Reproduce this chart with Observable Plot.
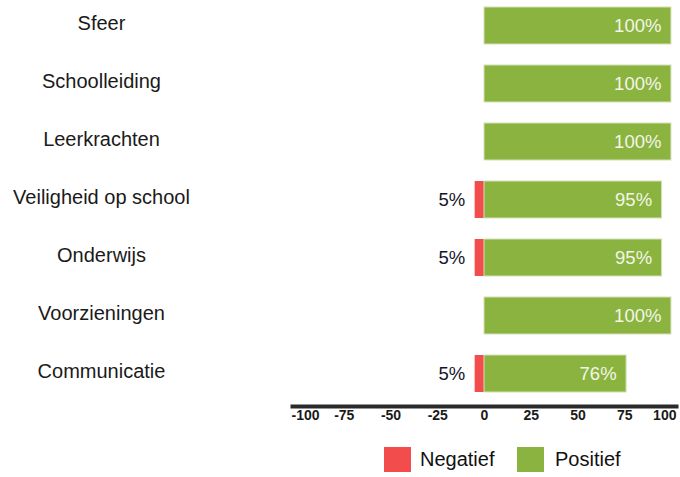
<!DOCTYPE html>
<html><head><meta charset="utf-8">
<script src="https://cdn.jsdelivr.net/npm/d3@7"></script>
<script src="https://cdn.jsdelivr.net/npm/@observablehq/plot@0.6"></script>
<style>
body{margin:0;background:#fff;font-family:"Liberation Sans",Arial,sans-serif}
#legend{position:relative;width:680px;height:37px}
.sw{position:absolute;top:7px;width:27px;height:25px}
.lb{position:absolute;top:8px;font-size:20px;color:#111}
</style>
</head><body><div id="chart"></div>
<div id="legend"></div>
<script>
const categories = ["Sfeer","Schoolleiding","Leerkrachten","Veiligheid op school","Onderwijs","Voorzieningen","Communicatie"];
const negatief = [0,0,0,5,5,0,5];
const positief = [100,100,100,95,95,100,76];
const xTicks = [-100,-75,-50,-25,0,25,50,75,100];
const seriesNames = ["Negatief","Positief"];
const colors = ["#f24c4c","#8ab43f"];

const rows = categories.map((c,i)=>({cat:c, neg:negatief[i], pos:positief[i]}));
const negRows = rows.filter(d=>d.neg>0);
const firstTick = xTicks[0], lastTick = xTicks[xTicks.length-1];
const midTicks = xTicks.slice(1,-1);

const chart = Plot.plot({
  width:680, height:440, marginLeft:292, marginRight:4, marginBottom:34, marginTop:5,
  style:{fontFamily:'"Liberation Sans",Arial,sans-serif', background:"#fff"},
  x:{domain:[-102.7,102.7], axis:null},
  y:{domain:categories, range:[5,393], paddingInner:0.3675, paddingOuter:0, axis:null},
  marks:[
    Plot.barX(negRows,{x1:d=>-d.neg, x2:0, y:"cat", fill:colors[0]}),
    Plot.barX(rows,{x1:0, x2:"pos", y:"cat", fill:colors[1], stroke:"#d6e0b8", strokeWidth:1}),
    Plot.text(rows,{x:"pos", y:"cat", text:d=>d.pos+"%", textAnchor:"end", dx:-10, fill:"#f3f5e8", fontSize:18.5}),
    Plot.text(negRows,{x:d=>-d.neg, y:"cat", text:d=>d.neg+"%", textAnchor:"end", dx:-10, fill:"#141428", fontSize:18.5}),
    Plot.text(categories,{y:d=>d, frameAnchor:"left", dx:-191, dy:-2, textAnchor:"middle", fontSize:20, fill:"#1a1a1a"}),
    Plot.text(midTicks,{x:d=>d, frameAnchor:"bottom", dy:13, text:d=>String(d), fontSize:14, fill:"#1a1a1a", fontWeight:"bold"}),
    Plot.text([firstTick],{x:d=>d, frameAnchor:"bottom", dy:13, dx:-6, textAnchor:"start", text:d=>String(d), fontSize:14, fill:"#1a1a1a", fontWeight:"bold"}),
    Plot.text([lastTick],{x:d=>d, frameAnchor:"bottom", dy:13, dx:5, textAnchor:"end", text:d=>String(d), fontSize:14, fill:"#1a1a1a", fontWeight:"bold"}),
    Plot.frame({anchor:"bottom", stroke:"#2a2a2a", strokeWidth:4})
  ]
});
document.getElementById("chart").appendChild(chart);

const lg = document.getElementById("legend");
const pos = [[384,420],[517,555]];
seriesNames.forEach((n,i)=>{
  const s=document.createElement("div"); s.className="sw"; s.style.left=pos[i][0]+"px"; s.style.background=colors[i]; lg.appendChild(s);
  const t=document.createElement("div"); t.className="lb"; t.style.left=pos[i][1]+"px"; t.textContent=n; lg.appendChild(t);
});
</script></body></html>
